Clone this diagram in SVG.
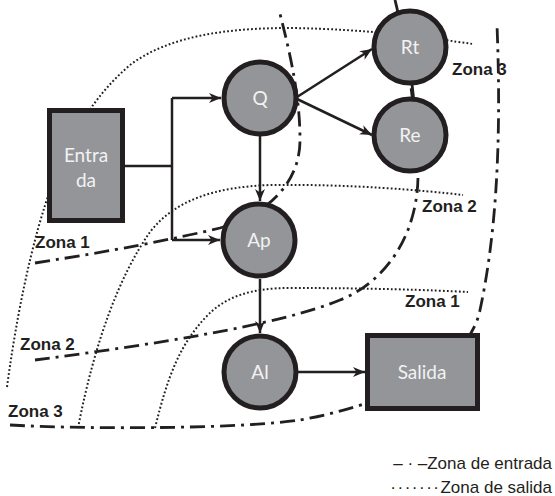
<svg xmlns="http://www.w3.org/2000/svg" width="555" height="496" viewBox="0 0 555 496">
  <style>
    .zin { fill: none; stroke: #231f20; stroke-width: 2.8; stroke-dasharray: 15 6 3 6; }
    .zout { fill: none; stroke: #231f20; stroke-width: 2; stroke-dasharray: 1.8 2.2; }
    .edge { fill: none; stroke: #231f20; stroke-width: 2.5; }
    .node { fill: #939598; stroke: #231f20; stroke-width: 5; }
    .lbl { font-family: Lato, "Open Sans", sans-serif; font-size: 19px; fill: #f2f2f2; text-anchor: middle; }
    .zone { font-family: "Liberation Sans", Arial, sans-serif; font-size: 17px; font-weight: bold; fill: #231f20; }
    .legend { font-family: "Liberation Sans", Arial, sans-serif; font-size: 17px; fill: #231f20; text-anchor: end; }
  </style>
  <defs>
    <marker id="arrow" markerUnits="userSpaceOnUse" markerWidth="13" markerHeight="11" refX="12" refY="5.5" orient="auto">
      <path d="M0,0.5 L12,5.5 L0,10.5 L3.5,5.5 Z" fill="#231f20"/>
    </marker>
  </defs>

  <!-- zone boundaries -->
  <g id="zones">
    <!-- exit zones (dotted) -->
    <path class="zout" d="M7,387 C20,290 40,210 60,165 C75,130 95,95 130,65 C170,35 230,28 290,28 C370,29 430,38 473,44"/>
    <path class="zout" d="M78,428 C95,340 120,275 150,232 C175,200 215,187 270,185 C350,184 420,190 463,195"/>
    <path class="zout" d="M155,428 C168,375 180,345 205,318 C225,296 252,288 290,288 C370,288 430,290 468,292"/>
    <!-- entry zones (dash-dot) -->
    <path class="zin" d="M35,263 Q150,245 220,228 C265,215 300,185 300,140 C300,100 292,60 279,10"/>
    <path class="zin" d="M35,360 C150,345 280,325 340,300 C390,280 418,230 418,175 C418,120 405,40 395,0"/>
    <line x1="412" y1="84" x2="413.5" y2="98" stroke="#231f20" stroke-width="2.8"/>
    <path class="zin" d="M10,425 C100,430 250,428 300,420 C400,402 470,360 480,310 C495,240 502,150 497,25"/>
  </g>

  <!-- connectors -->
  <g id="connectors">
    <polyline class="edge" points="125,166 172,166"/>
    <polyline class="edge" points="172,98 172,240"/>
    <line class="edge" x1="172" y1="98" x2="221" y2="98" marker-end="url(#arrow)"/>
    <line class="edge" x1="172" y1="240" x2="220" y2="240" marker-end="url(#arrow)"/>
    <line class="edge" x1="260" y1="136" x2="260" y2="201" marker-end="url(#arrow)"/>
    <line class="edge" x1="260" y1="279" x2="260" y2="333" marker-end="url(#arrow)"/>
    <line class="edge" x1="297" y1="97" x2="372" y2="49" marker-end="url(#arrow)"/>
    <line class="edge" x1="297" y1="99" x2="372" y2="135" marker-end="url(#arrow)"/>
    <line class="edge" x1="298" y1="372" x2="365" y2="372" marker-end="url(#arrow)"/>
  </g>

  <!-- nodes -->
  <g id="entrada">
    <rect class="node" x="49.5" y="110.5" width="73" height="110"/>
    <text class="lbl" x="86" y="162">Entra</text>
    <text class="lbl" x="86" y="187">da</text>
  </g>
  <g id="q">
    <circle class="node" cx="260" cy="98" r="36"/>
    <text class="lbl" x="260" y="105">Q</text>
  </g>
  <g id="rt">
    <circle class="node" cx="410" cy="47" r="36"/>
    <text class="lbl" x="410" y="54">Rt</text>
  </g>
  <g id="re">
    <circle class="node" cx="410" cy="135" r="36"/>
    <text class="lbl" x="410" y="142">Re</text>
  </g>
  <g id="ap">
    <circle class="node" cx="259" cy="240" r="36"/>
    <text class="lbl" x="259" y="247">Ap</text>
  </g>
  <g id="al">
    <circle class="node" cx="260" cy="372" r="36"/>
    <text class="lbl" x="260" y="379">Al</text>
  </g>
  <g id="salida">
    <rect class="node" x="367.5" y="335.5" width="110" height="73"/>
    <text class="lbl" x="422" y="379">Salida</text>
  </g>

  <!-- zone labels -->
  <g id="zone-labels">
    <text class="zone" x="35" y="248">Zona 1</text>
    <text class="zone" x="20" y="350">Zona 2</text>
    <text class="zone" x="8" y="417">Zona 3</text>
    <text class="zone" x="452" y="75">Zona 3</text>
    <text class="zone" x="422" y="212">Zona 2</text>
    <text class="zone" x="405" y="307">Zona 1</text>
  </g>

  <!-- legend -->
  <g id="legend">
    <text class="legend" x="552" y="469">– · –Zona de entrada</text>
    <text class="legend" x="552" y="493"><tspan letter-spacing="1.5">·······</tspan>Zona de salida</text>
  </g>
</svg>
